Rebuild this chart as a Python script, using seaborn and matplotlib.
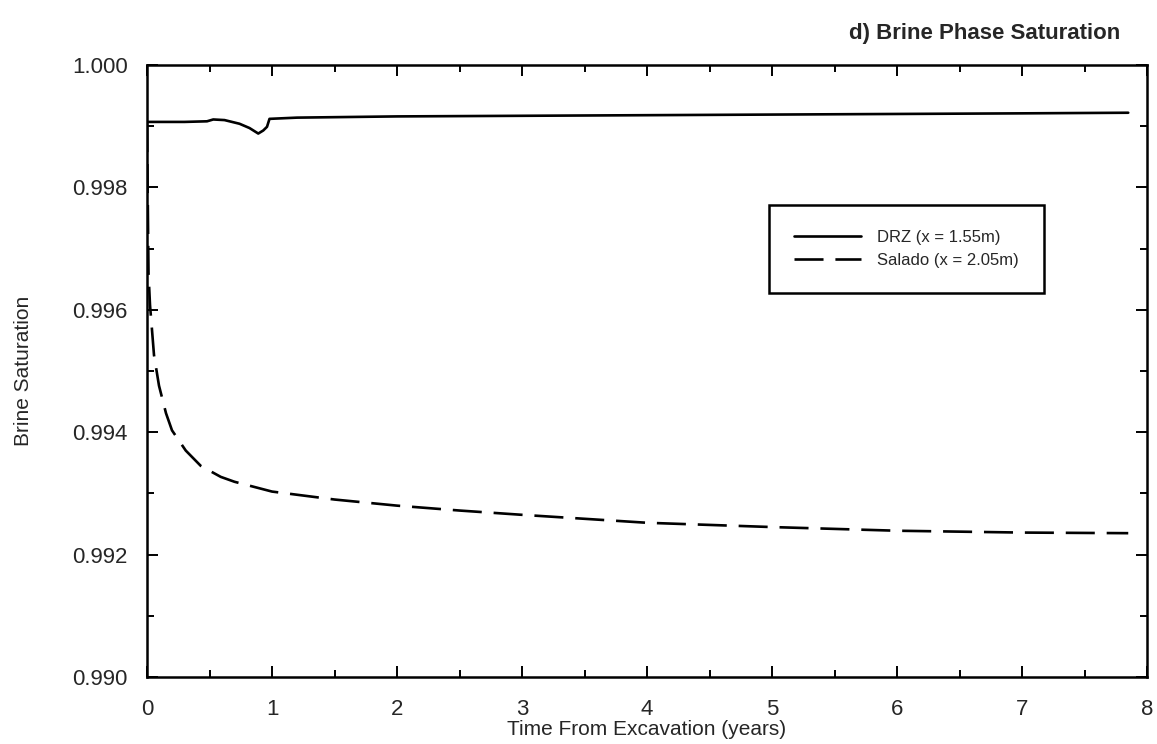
import numpy as np
import pandas as pd
import matplotlib
matplotlib.use("Agg")
import matplotlib.pyplot as plt
import seaborn as sns
from matplotlib.ticker import MultipleLocator, FormatStrFormatter

# ---- data ----
drz_t = [0.0, 0.30, 0.48, 0.53, 0.62, 0.74, 0.82, 0.89, 0.93, 0.96, 0.98,
         1.2, 1.6, 2.0, 3.0, 4.0, 5.0, 6.0, 7.0, 7.85]
drz_s = [0.99907, 0.99907, 0.99908, 0.99911, 0.99910, 0.99904, 0.99897,
         0.99888, 0.99893, 0.99899, 0.99912, 0.99914, 0.99915, 0.99916,
         0.99917, 0.99918, 0.99919, 0.99920, 0.99921, 0.99922]

sal_t = [0.0, 0.012, 0.024, 0.056, 0.096, 0.152, 0.20, 0.31, 0.43, 0.59,
         0.70, 1.0, 1.5, 2.0, 2.5, 3.0, 4.0, 5.0, 6.0, 7.0, 7.85]
sal_s = [0.99905, 0.99660, 0.99608, 0.99526, 0.99476, 0.99431, 0.99403,
         0.99370, 0.99345, 0.99327, 0.99319, 0.99303, 0.99290, 0.99280,
         0.99272, 0.99265, 0.99252, 0.99245, 0.99239, 0.99236, 0.99235]

labels = ["DRZ (x = 1.55m)", "Salado (x = 2.05m)"]
title = "d) Brine Phase Saturation"
xlabel = "Time From Excavation (years)"
ylabel = "Brine Saturation"

# ---- style ----
sns.set_style("ticks")
plt.rcParams["font.family"] = ["Liberation Sans", "DejaVu Sans"]

fig = plt.figure(figsize=(11.57, 7.44), dpi=100)
ax = fig.add_axes([147 / 1157, 1 - 677 / 744, 1000 / 1157, 612 / 744])

sns.lineplot(x=drz_t, y=drz_s, ax=ax, color="black", linewidth=1.9,
             label=labels[0])
sns.lineplot(x=sal_t, y=sal_s, ax=ax, color="black", linewidth=1.9,
             label=labels[1])
ax.lines[1].set_dashes((11, 4.5))

ax.set_xlim(0, 8)
ax.set_ylim(0.990, 1.000)
ax.xaxis.set_major_locator(MultipleLocator(1))
ax.xaxis.set_minor_locator(MultipleLocator(0.5))
ax.yaxis.set_major_locator(MultipleLocator(0.002))
ax.yaxis.set_minor_locator(MultipleLocator(0.001))
ax.yaxis.set_major_formatter(FormatStrFormatter("%.3f"))

for s in ax.spines.values():
    s.set_visible(True)
    s.set_linewidth(1.8)
    s.set_color("black")

ax.tick_params(which="both", direction="in", top=True, right=True,
               color="black", width=1.4)
ax.tick_params(which="major", length=8)
ax.tick_params(which="minor", length=5)
ax.tick_params(axis="x", which="major", labelsize=16, pad=16)
ax.tick_params(axis="y", which="major", labelsize=16, pad=14)

ax.set_xlabel(xlabel, fontsize=15, labelpad=0)
ax.set_ylabel(ylabel, fontsize=15, labelpad=28)

fig.text(1120 / 1157, 1 - 33 / 744, title, ha="right", va="center",
         fontsize=16, fontweight="bold")

leg = ax.legend(loc="upper left", bbox_to_anchor=((769 - 147) / 1000, (677 - 205) / 612),
                fontsize=12, frameon=True, fancybox=False, handlelength=4,
                handletextpad=1.0, borderpad=1.5, labelspacing=0.5,
                borderaxespad=0)
leg.get_frame().set_edgecolor("black")
leg.get_frame().set_linewidth(1.8)
leg.get_frame().set_alpha(1)

fig.savefig("out.png", dpi=100)
